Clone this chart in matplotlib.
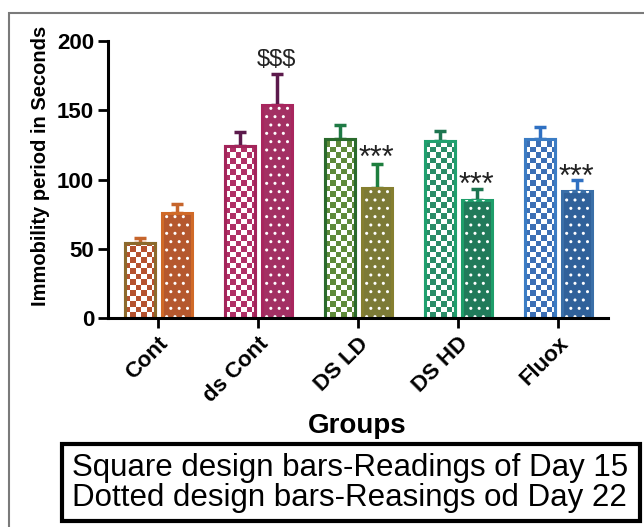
import numpy as np
import matplotlib
matplotlib.use("Agg")
import matplotlib.pyplot as plt
from matplotlib.patches import Rectangle

plt.rcParams['font.family'] = ['Liberation Sans', 'DejaVu Sans']
plt.rcParams['hatch.linewidth'] = 1.0

groups = ['Cont', 'ds Cont', 'DS LD', 'DS HD', 'Fluox']

# day 15 (square design) and day 22 (dotted design)
day15_mean = [54, 124.5, 129.5, 128, 129.5]
day15_err = [3.5, 10, 10, 7, 8.5]
day22_mean = [76, 154, 94, 85, 91.5]
day22_err = [6, 22, 17, 8.5, 8.5]

# significance marks over day 22 bars
marks = ['', '$$$', '***', '***', '***']
mark_y = [0, 186, 119, 99.5, 105]

sq_edge = ['#8C6A2C', '#A3245A', '#2A6A2C', '#1FA06E', '#3B7CC4']
sq_fill = ['#B5522F', '#B03066', '#5F8A3A', '#2A8C68', '#3C6FB5']
dot_edge = ['#D06A28', '#A8265E', '#857F30', '#1E9E6A', '#3A6FA8']
dot_fill = ['#B5582E', '#A33063', '#7C7A36', '#217A5A', '#30619A']
err_sq = ['#C6652C', '#5C1A4C', '#1F7A45', '#1D7550', '#2F70C2']
err_dot = ['#C6652C', '#5C1A4C', '#1E7E3E', '#1D7550', '#2F70C2']

fig = plt.figure(figsize=(6.44, 5.27), dpi=100)
ax = fig.add_axes([108/644, 1 - 318/527, 500/644, 277/527])

x = np.arange(len(groups))
w = 0.30
off = 0.185

ax.set_xlim(-0.5, 4.5)
ax.set_ylim(0, 200)

# error bars (upper only)
for i in range(len(groups)):
    ax.errorbar(x[i] - off, day15_mean[i], yerr=[[0], [day15_err[i]]], fmt='none',
                ecolor=err_sq[i], elinewidth=2.5, capsize=4.5, capthick=2.5, zorder=1)
    ax.errorbar(x[i] + off, day22_mean[i], yerr=[[0], [day22_err[i]]], fmt='none',
                ecolor=err_dot[i], elinewidth=2.5, capsize=4.5, capthick=2.5, zorder=1)

# square design bars: checker texture clipped to the bar
cell_x = 0.055
cell_y = 5.5 / 1.385
sq_bars = ax.bar(x - off, day15_mean, w, color='white', edgecolor=sq_edge, linewidth=2.2, zorder=2)
for i, b in enumerate(sq_bars):
    x0, h = b.get_x(), b.get_height()
    nc = int(np.ceil(w / cell_x))
    nr = int(np.ceil(h / cell_y))
    chk = (np.add.outer(np.arange(nr), np.arange(nc)) % 2).astype(float)
    rgba = np.ones((nr, nc, 4))
    col = matplotlib.colors.to_rgba(sq_fill[i])
    rgba[chk == 1] = col
    im = ax.imshow(rgba, extent=(x0, x0 + nc * cell_x, 0, nr * cell_y), origin='lower',
                   interpolation='nearest', aspect='auto', zorder=2.1)
    im.set_clip_path(b)
    ax.add_patch(Rectangle((x0, 0), w, h, facecolor='none', edgecolor=sq_edge[i],
                           linewidth=2.2, zorder=2.2))

# dotted design bars
ax.bar(x + off, day22_mean, w, color=dot_fill, edgecolor=dot_edge, linewidth=2.2, zorder=2)
ax.bar(x + off, day22_mean, w - 0.06, color='none', edgecolor='white', hatch='..',
       linewidth=0, zorder=2.1)

for i in range(len(groups)):
    if marks[i] == '$$$':
        ax.text(x[i] + off, mark_y[i], marks[i], ha='center', va='center', fontsize=17,
                parse_math=False, color='#222222')
    elif marks[i]:
        ax.text(x[i] + off, mark_y[i] - 4, marks[i], ha='center', va='center', fontsize=22,
                parse_math=False, color='#222222')

ax.set_xlim(-0.5, 4.5)
ax.set_ylim(0, 200)
ax.set_yticks([0, 50, 100, 150, 200])
ax.set_xticks(x)
ax.set_xticklabels(groups, rotation=45, ha='right', rotation_mode='anchor',
                   fontsize=16, fontweight='bold')
for t in ax.get_yticklabels():
    t.set_fontweight('bold')
ax.tick_params(axis='y', labelsize=16, width=2, length=7, pad=3)
ax.tick_params(axis='x', width=2, length=7, pad=4)
ax.spines['top'].set_visible(False)
ax.spines['right'].set_visible(False)
ax.spines['left'].set_linewidth(2.2)
ax.spines['bottom'].set_linewidth(2.2)
ax.set_ylabel('Immobility period in Seconds', fontsize=14.5, fontweight='bold')
ax.yaxis.set_label_coords(-0.116, 0.55)

fig.text(357/644, 1 - 426/527, 'Groups', ha='center', va='center', fontsize=20, fontweight='bold')

# text box under the chart
fig.add_artist(Rectangle((62/644, 6/527), 578/644, 77/527, transform=fig.transFigure,
                         fill=False, edgecolor='black', linewidth=3))
fig.text(72/644, 1 - 468/527, 'Square design bars-Readings of Day 15', ha='left', va='center',
         fontsize=22.5)
fig.text(72/644, 1 - 498/527, 'Dotted design bars-Reasings od Day 22', ha='left', va='center',
         fontsize=22.5)

# outer frame
fig.add_artist(Rectangle((9/644, -0.01), 1, 1 - 13/527 + 0.01, transform=fig.transFigure,
                         fill=False, edgecolor='#7a7a7a', linewidth=1.5))

fig.savefig('out.png', dpi=100)
